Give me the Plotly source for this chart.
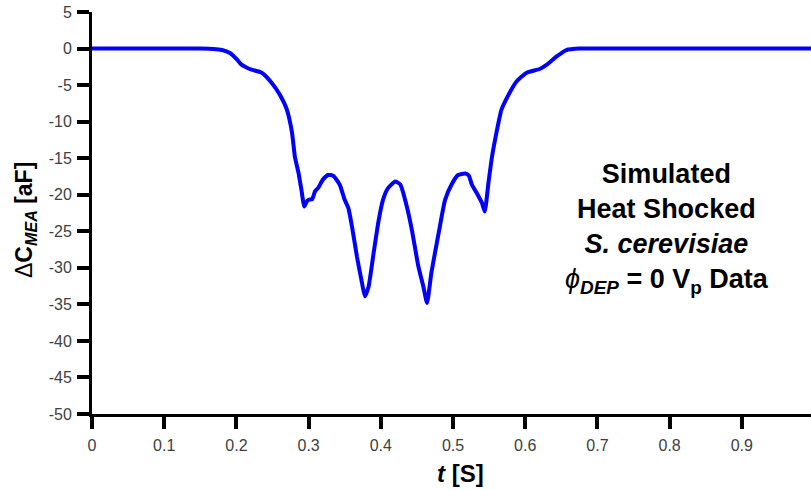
import plotly.graph_objects as go

# Simulated capacitance trace, heat-shocked S. cerevisiae at 0 Vp DEP
t_s = [0.000, 0.100, 0.150, 0.168, 0.180, 0.191, 0.200, 0.207, 0.214, 0.221,
       0.235, 0.249, 0.260, 0.270, 0.277, 0.281, 0.286, 0.290, 0.294, 0.297,
       0.300, 0.305, 0.309, 0.313, 0.320, 0.327, 0.334, 0.343, 0.350, 0.355,
       0.360, 0.367, 0.374, 0.378, 0.383, 0.390, 0.397, 0.403, 0.410, 0.420,
       0.427, 0.436, 0.443, 0.452, 0.459, 0.464, 0.470, 0.480, 0.489, 0.498,
       0.507, 0.517, 0.522, 0.526, 0.533, 0.540, 0.544, 0.549, 0.554, 0.561,
       0.567, 0.577, 0.588, 0.602, 0.620, 0.630, 0.644, 0.657, 0.676, 0.700,
       1.000]
dC_aF = [0.0, 0.0, 0.0, -0.05, -0.2, -0.6, -1.4, -2.2, -2.6, -2.9,
         -3.3, -4.7, -6.3, -8.4, -11.5, -14.8, -17.0, -19.3, -21.6, -21.0,
         -20.7, -20.6, -19.5, -19.1, -17.9, -17.3, -17.4, -18.6, -20.7, -21.8,
         -24.3, -28.5, -32.1, -33.9, -32.6, -28.0, -23.5, -20.7, -19.1, -18.2,
         -18.6, -21.6, -24.8, -29.8, -32.6, -34.8, -30.7, -25.3, -20.7, -18.6,
         -17.3, -17.1, -17.4, -18.6, -19.8, -21.1, -22.3, -18.4, -14.8, -11.1,
         -8.4, -6.3, -4.5, -3.3, -2.8, -2.2, -1.05, -0.2, 0.0, 0.0,
         0.0]

x_ticks = [0, 0.1, 0.2, 0.3, 0.4, 0.5, 0.6, 0.7, 0.8, 0.9, 1.0]
x_tick_text = ["0", "0.1", "0.2", "0.3", "0.4", "0.5", "0.6", "0.7", "0.8", "0.9", "1"]
y_ticks = [5, 0, -5, -10, -15, -20, -25, -30, -35, -40, -45, -50]
y_tick_text = ["5", "0", "-5", "-10", "-15", "-20", "-25", "-30", "-35", "-40", "-45", "-50"]

FONT = "Liberation Sans, Arial, sans-serif"

fig = go.Figure()
fig.add_trace(go.Scatter(
    x=t_s, y=dC_aF, mode="lines",
    line=dict(color="#0000ff", width=4, shape="spline", smoothing=0.5),
    showlegend=False, hoverinfo="skip",
))

axis_common = dict(
    showline=True, linecolor="black", linewidth=3,
    ticks="outside", ticklen=12, tickwidth=4, tickcolor="black",
    showgrid=False, zeroline=False,
    tickfont=dict(family=FONT, size=16, color="#404040"),
)

fig.update_layout(
    width=811, height=490,
    margin=dict(l=92, r=0, t=12, b=76),
    paper_bgcolor="white", plot_bgcolor="white",
    xaxis=dict(range=[0, 0.9958], tickvals=x_ticks, ticktext=x_tick_text,
               ticklabelstandoff=3, **axis_common),
    yaxis=dict(range=[-50, 5], tickvals=y_ticks, ticktext=y_tick_text,
               ticklabelstandoff=2, **axis_common),
    annotations=[
        dict(text="<b><i>t</i> [S]</b>", xref="paper", yref="paper",
             x=(460 - 92) / 719, y=-59 / 402,
             xanchor="center", yanchor="middle", showarrow=False,
             font=dict(family=FONT, size=24, color="black")),
        dict(text="Δ<b>C<sub><i>MEA</i></sub> [aF]</b>", xref="paper", yref="paper",
             x=-(92 - 25) / 719, y=(414 - 220) / 402, textangle=-90,
             xanchor="center", yanchor="middle", showarrow=False,
             font=dict(family=FONT, size=23, color="black")),
        dict(text="<b>Simulated<br>Heat Shocked<br><i>S. cerevisiae</i><br></b>"
                  "<i>ϕ</i><sub><b><i>DEP</i></b></sub><b> = 0 V<sub>p</sub> Data</b>",
             x=0.796, y=-24.6, xref="x", yref="y",
             xanchor="center", yanchor="middle", align="center", showarrow=False,
             font=dict(family=FONT, size=27, color="black")),
    ],
)

fig.write_html("out.html")
